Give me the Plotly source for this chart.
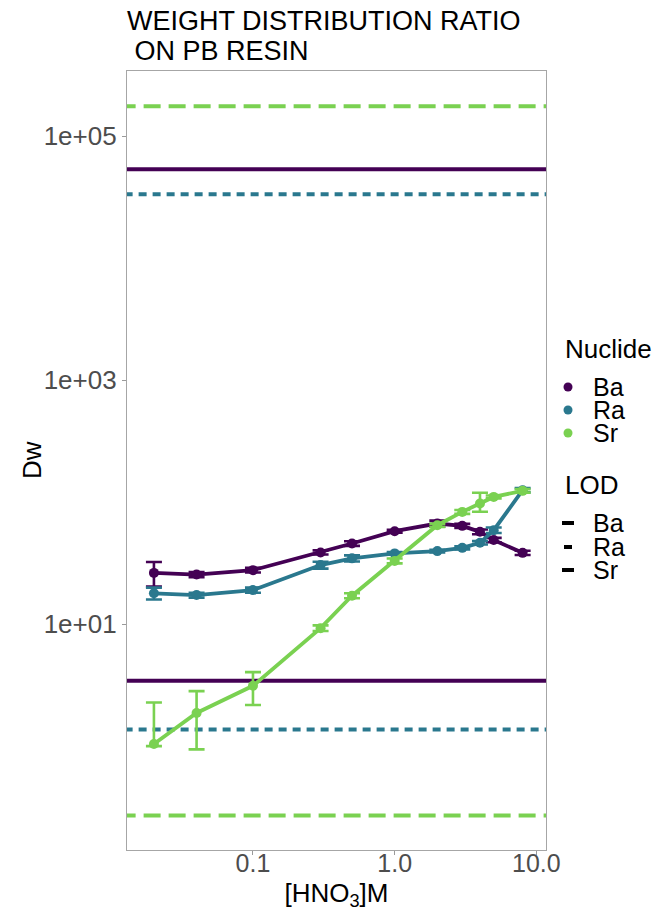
import plotly.graph_objects as go

# ---- data ----
hno3 = [0.02, 0.04, 0.1, 0.3, 0.5, 1.0, 2.0, 3.0, 4.0, 5.0, 8.0]
ba_dw = [26.3, 25.5, 27.7, 38.7, 45.8, 57.8, 66.8, 63.9, 57.1, 48.9, 38.4]
ba_err = [6.0, 1.2, 1.2, 1.5, 2.0, 1.5, 3.8, 2.5, 2.5, 2.0, 1.5]
ra_dw = [17.9, 17.3, 19.0, 30.5, 34.6, 38.0, 39.7, 42.2, 46.4, 58.9, 125.3]
ra_err = [2.0, 0.8, 0.9, 2.0, 2.0, 1.0, 1.0, 1.2, 1.5, 3.0, 5.0]
sr_dw = [1.04, 1.87, 3.12, 9.27, 17.1, 33.0, 64.7, 83.2, 97.5, 110.4, 123.8]
sr_err_plus = [1.24, 0.95, 0.92, 0.5, 0.8, 1.5, 2.0, 3.0, 22.0, 3.0, 4.0]
sr_err_minus = [0.04, 0.93, 0.95, 0.5, 0.8, 1.5, 2.0, 3.0, 14.0, 3.0, 4.0]

nuclides = ["Ba", "Ra", "Sr"]
lod_upper = [53700, 33500, 176000]
lod_lower = [3.43, 1.37, 0.27]

x_tickvals = [0.1, 1.0, 10.0]
x_ticktext = ["0.1", "1.0", "10.0"]
y_tickvals = [10, 1000, 100000]
y_ticktext = ["1e+01", "1e+03", "1e+05"]

title_lines = ["WEIGHT DISTRIBUTION RATIO", "\u00a0ON PB RESIN"]

colors = {"Ba": "#440154", "Ra": "#2A788E", "Sr": "#7AD151"}
dashes = {"Ba": "solid", "Ra": "8px,6px", "Sr": "17px,8px"}

FONT = "Liberation Sans, Arial, sans-serif"

W, H = 656, 911
ML, MR, MT, MB = 127, 110, 71, 61
PW = W - ML - MR
PH = H - MT - MB


def px2paper_x(px):
    return (px - ML) / PW


def px2paper_y(py):
    return (H - MB - py) / PH


fig = go.Figure()

# LOD horizontal lines
x_span = [0.005, 50]
for nm, up, lo in zip(nuclides, lod_upper, lod_lower):
    for val in (up, lo):
        fig.add_trace(go.Scatter(
            x=x_span, y=[val, val], mode="lines",
            line=dict(color=colors[nm], width=4, dash=dashes[nm]),
            showlegend=False, hoverinfo="skip"))

# data series
series = [
    ("Ba", ba_dw, ba_err, ba_err),
    ("Ra", ra_dw, ra_err, ra_err),
    ("Sr", sr_dw, sr_err_plus, sr_err_minus),
]
for nm, ys, ep, em in series:
    fig.add_trace(go.Scatter(
        x=hno3, y=ys, mode="lines+markers", name=nm,
        line=dict(color=colors[nm], width=3.8),
        marker=dict(color=colors[nm], size=10),
        error_y=dict(type="data", symmetric=False, array=ep, arrayminus=em,
                     color=colors[nm], thickness=2.6, width=8),
        showlegend=False))

fig.update_layout(
    width=W, height=H,
    margin=dict(l=ML, r=MR, t=MT, b=MB),
    paper_bgcolor="white", plot_bgcolor="white",
    font=dict(family=FONT, size=22, color="black"),
    showlegend=False,
    xaxis=dict(
        type="log", range=[-1.889, 1.068], automargin=False,
        tickvals=x_tickvals, ticktext=x_ticktext,
        ticks="outside", ticklen=4, tickcolor="#9A9A9A",
        ticklabelstandoff=-13,
        tickfont=dict(family=FONT, size=25, color="#4D4D4D"),
        showgrid=False, zeroline=False,
        showline=True, linecolor="#A6A6A6", linewidth=1.2, mirror=True,
        title=dict(text="[HNO<sub>3</sub>]M", font=dict(family=FONT, size=26, color="black"),
                   standoff=14)),
    yaxis=dict(
        type="log", range=[-0.852, 5.535], automargin=False,
        tickvals=y_tickvals, ticktext=y_ticktext,
        ticks="outside", ticklen=4, tickcolor="#9A9A9A",
        tickfont=dict(family=FONT, size=26, color="#4D4D4D"),
        showgrid=False, zeroline=False,
        showline=True, linecolor="#A6A6A6", linewidth=1.2, mirror=True),
)

# y-axis title (placed precisely)
fig.add_annotation(
    text="Dw", xref="paper", yref="paper",
    x=px2paper_x(32), y=px2paper_y(460),
    xanchor="center", yanchor="middle", textangle=-90, showarrow=False,
    font=dict(family=FONT, size=26, color="black"))

# title (two lines, ggplot-style tight spacing)
for txt, ypix in zip(title_lines, [21, 51]):
    fig.add_annotation(
        text=txt, xref="paper", yref="paper",
        x=px2paper_x(ML - 2), y=px2paper_y(ypix),
        xanchor="left", yanchor="middle", showarrow=False, align="left",
        font=dict(family=FONT, size=27, color="black"))

# manual legend (ggplot-like compact spacing)
leg_title_x = 563
leg_key_x = 568
leg_text_x = 591


def legend_title(text, ypix):
    fig.add_annotation(
        text=text, xref="paper", yref="paper",
        x=px2paper_x(leg_title_x), y=px2paper_y(ypix),
        xanchor="left", yanchor="middle", showarrow=False,
        font=dict(family=FONT, size=26, color="black"))


def legend_label(text, ypix):
    fig.add_annotation(
        text=text, xref="paper", yref="paper",
        x=px2paper_x(leg_text_x), y=px2paper_y(ypix),
        xanchor="left", yanchor="middle", showarrow=False,
        font=dict(family=FONT, size=25, color="black"))


legend_title("Nuclide", 349)
for nm, ypix in zip(nuclides, [387, 410, 433]):
    fig.add_shape(type="circle", xref="paper", yref="paper",
                  xsizemode="pixel", ysizemode="pixel",
                  xanchor=px2paper_x(leg_key_x), yanchor=px2paper_y(ypix),
                  x0=-4.5, x1=4.5, y0=-4.5, y1=4.5,
                  fillcolor=colors[nm], line=dict(color=colors[nm], width=0))
    legend_label(nm, ypix)

legend_title("LOD", 485)
key_half = {"Ba": 6, "Ra": 4, "Sr": 6}
for nm, ypix in zip(nuclides, [523, 547, 570]):
    fig.add_shape(type="line", xref="paper", yref="paper",
                  xsizemode="pixel", ysizemode="pixel",
                  xanchor=px2paper_x(leg_key_x), yanchor=px2paper_y(ypix),
                  x0=-key_half[nm], x1=key_half[nm], y0=0, y1=0,
                  line=dict(color="black", width=4))
    legend_label(nm, ypix)

fig.write_html("out.html")
